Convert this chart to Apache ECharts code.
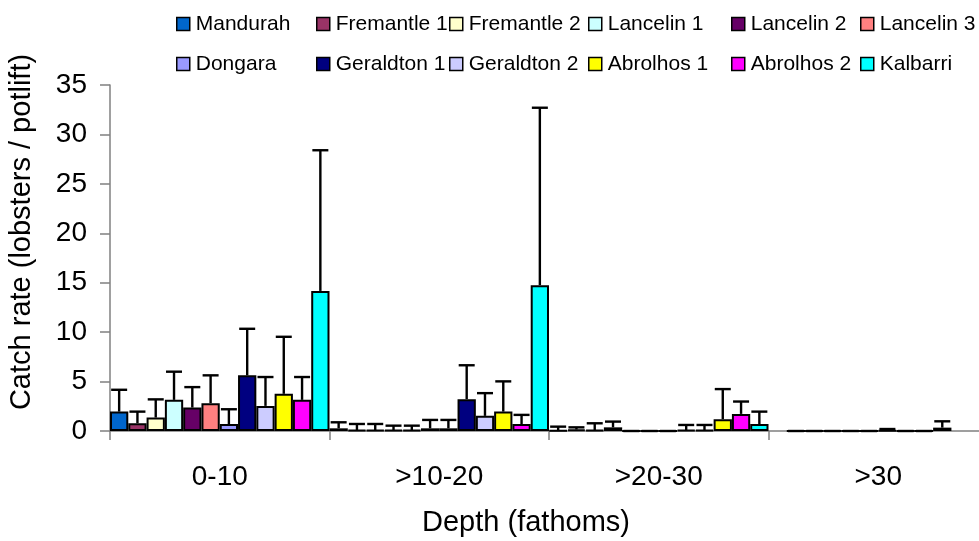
<!DOCTYPE html>
<html>
<head>
<meta charset="utf-8">
<script src="https://cdn.jsdelivr.net/npm/echarts@6/dist/echarts.min.js"></script>
<style>html,body{margin:0;padding:0;background:#fff}#c{width:979px;height:541px}</style>
</head>
<body>
<div id="c"></div>
<script>
var categories = ['0-10', '>10-20', '>20-30', '>30'];
var yTicks = { min: 0, max: 35, interval: 5 };

var sites = ['Mandurah', 'Fremantle 1', 'Fremantle 2', 'Lancelin 1', 'Lancelin 2', 'Lancelin 3',
             'Dongara', 'Geraldton 1', 'Geraldton 2', 'Abrolhos 1', 'Abrolhos 2', 'Kalbarri'];

// mean catch rate per depth class
var mandurah   = [1.96, 0.27, 0.05, null];
var fremantle1 = [0.78, 0.10, 0.15, 0];
var fremantle2 = [1.36, 0.10, 0.10, 0];
var lancelin1  = [3.15, 0.10, 0.37, 0];
var lancelin2  = [2.37, 0.10, 0, 0];
var lancelin3  = [2.81, 0.27, 0, 0];
var dongara    = [0.71, 0.27, 0, 0.05];
var geraldton1 = [5.63, 3.22, 0.10, 0];
var geraldton2 = [2.54, 1.53, 0.10, 0];
var abrolhos1  = [3.76, 1.96, 1.19, 0.34];
var abrolhos2  = [3.15, 0.71, 1.73, null];
var kalbarri   = [14.17, 14.75, 0.71, null];

// upper error bar length per depth class
var mandurahErr   = [2.21, 0.61, 0.39, null];
var fremantle1Err = [1.18, 0.61, 0.22, 0];
var fremantle2Err = [1.84, 0.61, 0.68, 0];
var lancelin1Err  = [2.85, 0.44, 0.58, 0];
var lancelin2Err  = [2.07, 0.44, 0, 0];
var lancelin3Err  = [2.82, 0.85, 0, 0];
var dongaraErr    = [1.49, 0.85, 0, 0.15];
var geraldton1Err = [4.71, 3.43, 0.51, 0];
var geraldton2Err = [2.92, 2.30, 0.51, 0];
var abrolhos1Err  = [5.77, 3.06, 3.05, 0.64];
var abrolhos2Err  = [2.31, 0.92, 1.25, null];
var kalbarriErr   = [14.23, 17.95, 1.25, null];

var means = [mandurah, fremantle1, fremantle2, lancelin1, lancelin2, lancelin3,
             dongara, geraldton1, geraldton2, abrolhos1, abrolhos2, kalbarri];
var errs = [mandurahErr, fremantle1Err, fremantle2Err, lancelin1Err, lancelin2Err, lancelin3Err,
            dongaraErr, geraldton1Err, geraldton2Err, abrolhos1Err, abrolhos2Err, kalbarriErr];

var colors = ['#0066CC', '#993366', '#FFFFCC', '#CCFFFF', '#660066', '#FF8080',
              '#9999FF', '#000080', '#CCCCFF', '#FFFF00', '#FF00FF', '#00FFFF'];

var FONT = '"Liberation Sans", Arial, Helvetica, sans-serif';
var N = sites.length;

var series = [];
sites.forEach(function (name, i) {
  series.push({
    name: name,
    type: 'bar',
    data: means[i],
    barGap: '0%',
    barCategoryGap: '0%',
    itemStyle: { color: colors[i], borderColor: '#000', borderWidth: 2 },
    emphasis: { disabled: true },
    z: 3
  });
});
sites.forEach(function (name, i) {
  var d = [];
  means[i].forEach(function (m, k) {
    if (m !== null && errs[i][k] !== null) d.push([k, m, m + errs[i][k]]);
  });
  series.push({
    name: name + ' err',
    type: 'custom',
    data: d,
    z: 2,
    renderItem: (function (idx) {
      return function (params, api) {
        var cat = api.value(0);
        var base = api.coord([cat, api.value(1)]);
        var top = api.coord([cat, api.value(2)]);
        var band = api.size([1, 0])[0];
        var x = base[0] - band / 2 + (idx + 0.5) * band / N;
        var half = 8;
        return {
          type: 'group',
          children: [
            { type: 'line', shape: { x1: x, y1: base[1], x2: x, y2: top[1] },
              style: { stroke: '#000', lineWidth: 2.4 } },
            { type: 'line', shape: { x1: x - half, y1: top[1], x2: x + half, y2: top[1] },
              style: { stroke: '#000', lineWidth: 2.4 } }
          ]
        };
      };
    })(i),
    encode: { x: 0, y: [1, 2] },
    silent: true
  });
});

var legendLefts = [176, 316, 449, 588, 731, 860];
var legends = legendLefts.map(function (l, c) {
  return {
    orient: 'vertical',
    left: l,
    top: 12,
    padding: 0,
    itemWidth: 13,
    itemHeight: 13,
    itemGap: 16,
    icon: 'rect',
    data: [sites[c], sites[c + 6]],
    textStyle: { fontFamily: FONT, fontSize: 21, color: '#000', lineHeight: 24, padding: [0, 0, 0, 1] },
    itemStyle: { borderColor: '#000', borderWidth: 1.5 }
  };
});

var chart = echarts.init(document.getElementById('c'), null, { renderer: 'canvas' });
chart.setOption({
  backgroundColor: '#fff',
  animation: false,
  legend: legends,
  grid: { left: 110, width: 878, top: 85, height: 346, outerBoundsMode: 'none', containLabel: false },
  xAxis: {
    type: 'category',
    data: categories,
    axisLine: { lineStyle: { color: '#808080', width: 1.5 } },
    axisTick: { show: true, alignWithLabel: false, length: 9, lineStyle: { color: '#808080', width: 1.5 } },
    axisLabel: { fontFamily: FONT, fontSize: 28, color: '#000', margin: 32 },
    name: 'Depth (fathoms)',
    nameLocation: 'middle',
    nameGap: 77,
    nameTextStyle: { fontFamily: FONT, fontSize: 29, color: '#000', padding: [0, 46, 0, 0] }
  },
  yAxis: {
    type: 'value',
    min: yTicks.min,
    max: yTicks.max,
    interval: yTicks.interval,
    splitLine: { show: false },
    axisLine: { show: true, lineStyle: { color: '#808080', width: 1.5 } },
    axisTick: { show: true, length: 10, lineStyle: { color: '#808080', width: 1.5 } },
    axisLabel: { fontFamily: FONT, fontSize: 28, color: '#000', margin: 23 },
    name: 'Catch rate (lobsters / potlift)',
    nameLocation: 'middle',
    nameGap: 74,
    nameTextStyle: { fontFamily: FONT, fontSize: 29, color: '#000', padding: [0, 0, 0, 52] }
  },
  series: series
});
</script>
</body>
</html>
